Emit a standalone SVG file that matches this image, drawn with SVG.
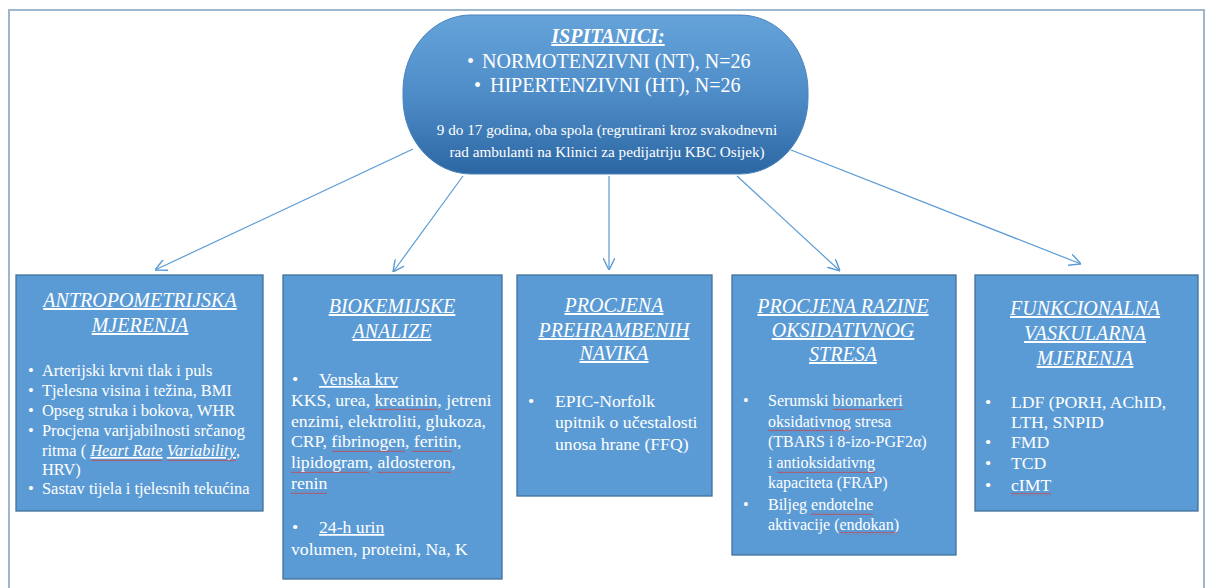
<svg xmlns="http://www.w3.org/2000/svg" width="1205" height="588" viewBox="0 0 1205 588" font-family="'Liberation Serif', serif">
<defs>
<linearGradient id="g" x1="0" y1="0" x2="0" y2="1">
<stop offset="0" stop-color="#65a3da"/>
<stop offset="0.5" stop-color="#4e8cc8"/>
<stop offset="1" stop-color="#2c67a3"/>
</linearGradient>
<marker id="ah" markerWidth="12" markerHeight="12" refX="10" refY="5" orient="auto" markerUnits="userSpaceOnUse" viewBox="0 0 10 10">
<path d="M0,0 L10,5 L0,10" fill="none" stroke="#5b9bd5" stroke-width="1.2"/>
</marker>
<pattern id="wavy" width="4" height="3" patternUnits="userSpaceOnUse">
<path d="M0,2.2 L1,0.8 L2,2.2 L3,0.8 L4,2.2" fill="none" stroke="#d63b3b" stroke-width="0.6"/>
</pattern>
</defs>
<style>
text{font-family:'Liberation Serif','Times New Roman',serif;fill:#ffffff}
.t{font-size:20px;font-style:italic;text-decoration:underline;text-anchor:middle}
.b{font-size:16.4px}
.c{font-size:17.7px}
.d{font-size:16px}
.box{fill:#5b9bd5;stroke:#41719c;stroke-width:1.3}
.conn{stroke:#5b9bd5;stroke-width:1.2;fill:none;marker-end:url(#ah)}
.sq{fill:url(#wavy)}
</style>
<rect x="0" y="0" width="1205" height="588" fill="#ffffff"/>
<rect x="9" y="10" width="1195" height="590" fill="none" stroke="#9db7cf" stroke-width="2"/>

<g id="connectors">
<line class="conn" x1="413" y1="149" x2="155" y2="270"/>
<line class="conn" x1="463" y1="176" x2="393" y2="272"/>
<line class="conn" x1="609" y1="176" x2="609" y2="270"/>
<line class="conn" x1="737" y1="176" x2="840" y2="271"/>
<line class="conn" x1="791" y1="150" x2="1081" y2="264"/>
</g>

<g id="ispitanici">
<rect x="403" y="15" width="405" height="159" rx="68" ry="76" fill="url(#g)" stroke="#4a84bd" stroke-width="1"/>
<text x="608" y="43" style="font-size:20px;font-weight:bold;font-style:italic;text-decoration:underline" text-anchor="middle">ISPITANICI:</text>
<text x="467" y="68" style="font-size:20px">•</text>
<text x="482" y="68" style="font-size:20px">NORMOTENZIVNI (NT), N=26</text>
<text x="474" y="92" style="font-size:20px">•</text>
<text x="490" y="92" style="font-size:20px">HIPERTENZIVNI (HT), N=26</text>
<text x="607" y="135" style="font-size:15.2px" text-anchor="middle">9 do 17 godina, oba spola (regrutirani kroz svakodnevni</text>
<text x="607" y="157" style="font-size:15.2px" text-anchor="middle">rad ambulanti na Klinici za pedijatriju KBC Osijek)</text>
</g>

<g id="antropometrijska">
<rect class="box" x="16" y="275" width="247" height="236"/>
<text class="t" x="140" y="307">ANTROPOMETRIJSKA</text>
<text class="t" x="140" y="332">MJERENJA</text>
<g class="b">
<text x="28" y="376">•</text><text x="42" y="376">Arterijski krvni tlak i puls</text>
<text x="28" y="396">•</text><text x="42" y="396">Tjelesna visina i težina, BMI</text>
<text x="28" y="416">•</text><text x="42" y="416">Opseg struka i bokova, WHR</text>
<text x="28" y="436">•</text><text x="42" y="436">Procjena varijabilnosti srčanog</text>
<text x="42" y="456">ritma ( <tspan font-style="italic" text-decoration="underline">Heart Rate</tspan> <tspan font-style="italic" text-decoration="underline">Variability</tspan>,</text>
<text x="42" y="475">HRV)</text>
<text x="28" y="494">•</text><text x="42" y="494">Sastav tijela i tjelesnih tekućina</text>
</g>
<rect class="sq" x="91" y="459" width="71" height="3"/>
<rect class="sq" x="167" y="459" width="69" height="3"/>
</g>

<g id="biokemijske">
<rect class="box" x="283" y="275" width="219" height="304"/>
<text class="t" x="392" y="313">BIOKEMIJSKE</text>
<text class="t" x="392" y="338">ANALIZE</text>
<g class="c">
<text x="292" y="385">•</text><text x="319" y="385" text-decoration="underline">Venska krv</text>
<text x="291" y="406">KKS, urea, kreatinin, jetreni</text>
<text x="291" y="427">enzimi, elektroliti, glukoza,</text>
<text x="291" y="447">CRP, fibrinogen, feritin,</text>
<text x="291" y="468">lipidogram, aldosteron,</text>
<text x="291" y="489">renin</text>
<text x="292" y="533">•</text><text x="319" y="533" text-decoration="underline">24-h urin</text>
<text x="291" y="555">volumen, proteini, Na, K</text>
</g>
<rect class="sq" x="375" y="408" width="62" height="3"/>
<rect class="sq" x="332" y="449" width="73" height="3"/>
<rect class="sq" x="412" y="449" width="40" height="3"/>
<rect class="sq" x="291" y="470" width="78" height="3"/>
<rect class="sq" x="377" y="470" width="74" height="3"/>
<rect class="sq" x="291" y="491" width="36" height="3"/>
</g>

<g id="prehrambenih">
<rect class="box" x="517" y="275" width="195" height="221"/>
<text class="t" x="614" y="312">PROCJENA</text>
<text class="t" x="614" y="337">PREHRAMBENIH</text>
<text class="t" x="614" y="360">NAVIKA</text>
<g class="c">
<text x="528" y="407">•</text><text x="555" y="407">EPIC-Norfolk</text>
<text x="555" y="428">upitnik o učestalosti</text>
<text x="555" y="450">unosa hrane (FFQ)</text>
</g>
</g>

<g id="oksidativnog">
<rect class="box" x="732" y="275" width="224" height="280"/>
<text class="t" x="843" y="313">PROCJENA RAZINE</text>
<text class="t" x="843" y="337">OKSIDATIVNOG</text>
<text class="t" x="843" y="361">STRESA</text>
<g class="d">
<text x="743" y="406">•</text><text x="768" y="406">Serumski biomarkeri</text>
<text x="768" y="427">oksidativnog stresa</text>
<text x="768" y="447">(TBARS i 8-izo-PGF2α)</text>
<text x="768" y="468">i antioksidativng</text>
<text x="768" y="488">kapaciteta (FRAP)</text>
<text x="743" y="510">•</text><text x="768" y="510">Biljeg endotelne</text>
<text x="768" y="530">aktivacije (endokan)</text>
</g>
<rect class="sq" x="833" y="408" width="70" height="3"/>
<rect class="sq" x="768" y="429" width="83" height="3"/>
<rect class="sq" x="777" y="470" width="98" height="3"/>
<rect class="sq" x="811" y="512" width="62" height="3"/>
<rect class="sq" x="839" y="532" width="58" height="3"/>
</g>

<g id="vaskularna">
<rect class="box" x="975" y="275" width="223" height="236"/>
<text class="t" x="1085" y="315">FUNKCIONALNA</text>
<text class="t" x="1085" y="340">VASKULARNA</text>
<text class="t" x="1085" y="365">MJERENJA</text>
<g class="c">
<text x="985" y="408">•</text><text x="1011" y="408">LDF (PORH, AChID,</text>
<text x="1011" y="428">LTH, SNPID</text>
<text x="985" y="448">•</text><text x="1011" y="448">FMD</text>
<text x="985" y="469">•</text><text x="1011" y="469">TCD</text>
<text x="985" y="491">•</text><text x="1011" y="491">cIMT</text>
</g>
<rect class="sq" x="1011" y="493" width="40" height="3"/>
</g>
</svg>
